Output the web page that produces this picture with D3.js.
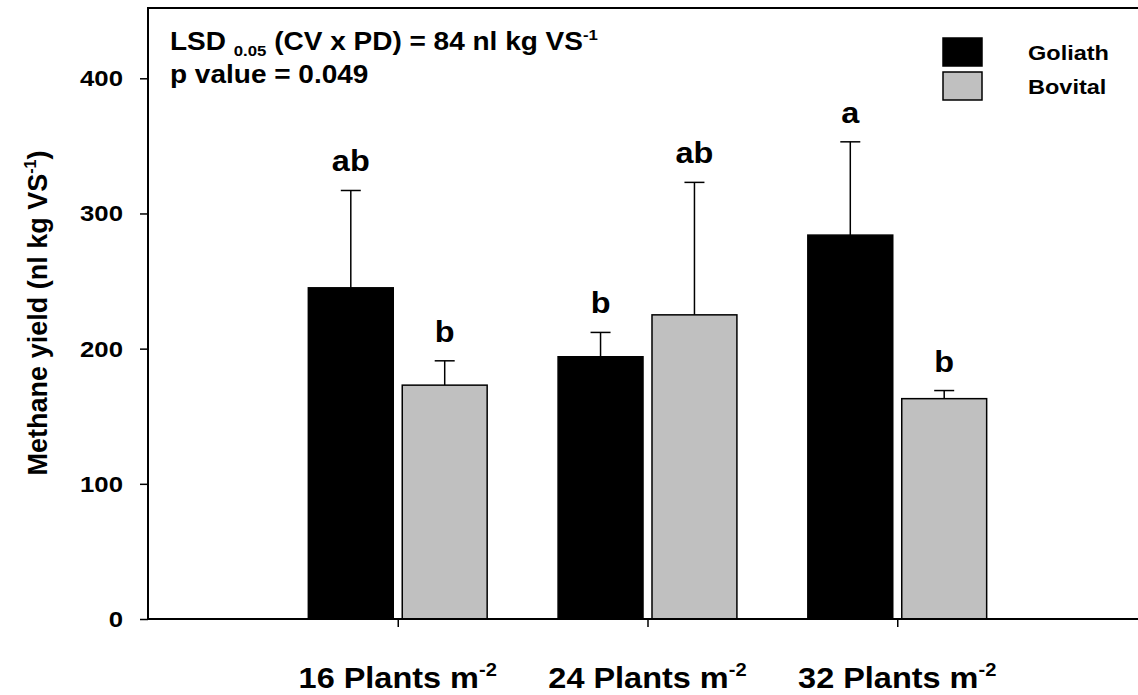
<!DOCTYPE html>
<html>
<head>
<meta charset="utf-8">
<script src="https://cdn.jsdelivr.net/npm/d3@7"></script>
<style>
  html, body { margin: 0; padding: 0; background: #fff; }
  svg { display: block; }
  text { font-family: "Liberation Sans", Arial, sans-serif; font-weight: bold; fill: #000; }
</style>
</head>
<body>
<svg id="chart" width="1138" height="695"></svg>
<script>
// Plant densities (plants per m²) on the x axis
const densities = ["16", "24", "32"];
const densityPos = [1, 2, 3];

// Methane yield means and standard errors (nl kg VS⁻¹)
const goliath = [245, 194, 284];
const goliathErr = [72, 18, 69];
const bovital = [173, 225, 163];
const bovitalErr = [18, 98, 6];

// Mean separation letters
const goliathLetters = ["ab", "b", "a"];
const bovitalLetters = ["b", "ab", "b"];

const yTicks = [0, 100, 200, 300, 400];
const seriesNames = ["Goliath", "Bovital"];
const seriesColors = ["#000000", "#c0c0c0"];

const SX = 1.12; // horizontal stretch of the lettering

const svg = d3.select("#chart");

const x = d3.scaleLinear().domain([0, 4]).range([148, 1147]);
const y = d3.scaleLinear().domain([0, 452]).range([619, 8]);

const barW = x(0.34) - x(0);
const barOff = x(0.188) - x(0);

// place a stretched text element at (px, py)
function place(sel, px, py) {
  return sel.attr("transform", `translate(${px},${py}) scale(${SX},1)`);
}

// y axis
const yAxis = svg.append("g")
  .attr("transform", `translate(${x(0)},0)`)
  .call(d3.axisLeft(y).tickValues(yTicks).tickSize(8).tickSizeOuter(0));
yAxis.select(".domain").remove();
yAxis.selectAll(".tick line").attr("stroke", "#000").attr("stroke-width", 1.5);
yAxis.selectAll(".tick text")
  .attr("x", -25 / SX)
  .attr("transform", `scale(${SX},1)`)
  .style("font-size", "23px")
  .style("font-weight", "bold")
  .style("font-family", "'Liberation Sans', Arial, sans-serif");

// x axis ticks
const xAxis = svg.append("g")
  .attr("transform", `translate(0,${y(0)})`)
  .call(d3.axisBottom(x).tickValues(densityPos).tickSize(8).tickSizeOuter(0).tickFormat(""));
xAxis.select(".domain").remove();
xAxis.selectAll(".tick line").attr("stroke", "#000").attr("stroke-width", 1.5);

// x axis category labels
densities.forEach((d, i) => {
  const t = place(svg.append("text"), x(densityPos[i]), 688)
    .attr("text-anchor", "middle")
    .style("font-size", "29px");
  t.append("tspan").text(`${d} Plants m`);
  t.append("tspan").attr("dy", -12).style("font-size", "18px").text("-2");
});

// bars and error bars
const series = [
  { vals: goliath, err: goliathErr, letters: goliathLetters, off: -barOff, color: seriesColors[0] },
  { vals: bovital, err: bovitalErr, letters: bovitalLetters, off: barOff, color: seriesColors[1] }
];

series.forEach(s => {
  const g = svg.append("g");
  s.vals.forEach((v, i) => {
    const cx = x(densityPos[i]) + s.off;
    const top = y(v + s.err[i]);
    g.append("line")
      .attr("x1", cx).attr("x2", cx)
      .attr("y1", y(v)).attr("y2", top)
      .attr("stroke", "#000").attr("stroke-width", 1.5);
    g.append("line")
      .attr("x1", cx - 10).attr("x2", cx + 10)
      .attr("y1", top).attr("y2", top)
      .attr("stroke", "#000").attr("stroke-width", 1.5);
    g.append("rect")
      .attr("x", cx - barW / 2)
      .attr("y", y(v))
      .attr("width", barW)
      .attr("height", y(0) - y(v))
      .attr("fill", s.color)
      .attr("stroke", "#000")
      .attr("stroke-width", 1.5);
    place(g.append("text"), cx, top - 19)
      .attr("text-anchor", "middle")
      .style("font-size", "29px")
      .text(s.letters[i]);
  });
});

// plot frame
svg.append("rect")
  .attr("x", x(0)).attr("y", y(452))
  .attr("width", x(4) - x(0)).attr("height", y(0) - y(452))
  .attr("fill", "none").attr("stroke", "#000").attr("stroke-width", 2);

// y axis title
const yt = svg.append("text")
  .attr("transform", `translate(47,313) rotate(-90)`)
  .attr("text-anchor", "middle")
  .style("font-size", "27px");
yt.append("tspan").text("Methane yield (nl kg VS");
yt.append("tspan").attr("dy", -11).style("font-size", "16px").text("-1");
yt.append("tspan").attr("dy", 11).text(")");

// statistics annotation
const a1 = place(svg.append("text"), 170, 50).style("font-size", "25px");
a1.append("tspan").text("LSD ");
a1.append("tspan").attr("dy", 6).style("font-size", "15px").text("0.05");
a1.append("tspan").attr("dy", -6).text(" (CV x PD) = 84 nl kg VS");
a1.append("tspan").attr("dy", -10).style("font-size", "15px").text("-1");
place(svg.append("text"), 170, 83).style("font-size", "25px").text("p value = 0.049");

// legend
seriesNames.forEach((name, i) => {
  svg.append("rect")
    .attr("x", 943).attr("y", 38 + i * 34)
    .attr("width", 39).attr("height", 28)
    .attr("fill", seriesColors[i])
    .attr("stroke", "#000").attr("stroke-width", 1.5);
  place(svg.append("text"), 1028, 60 + i * 34)
    .style("font-size", "21px")
    .text(name);
});
</script>
</body>
</html>
